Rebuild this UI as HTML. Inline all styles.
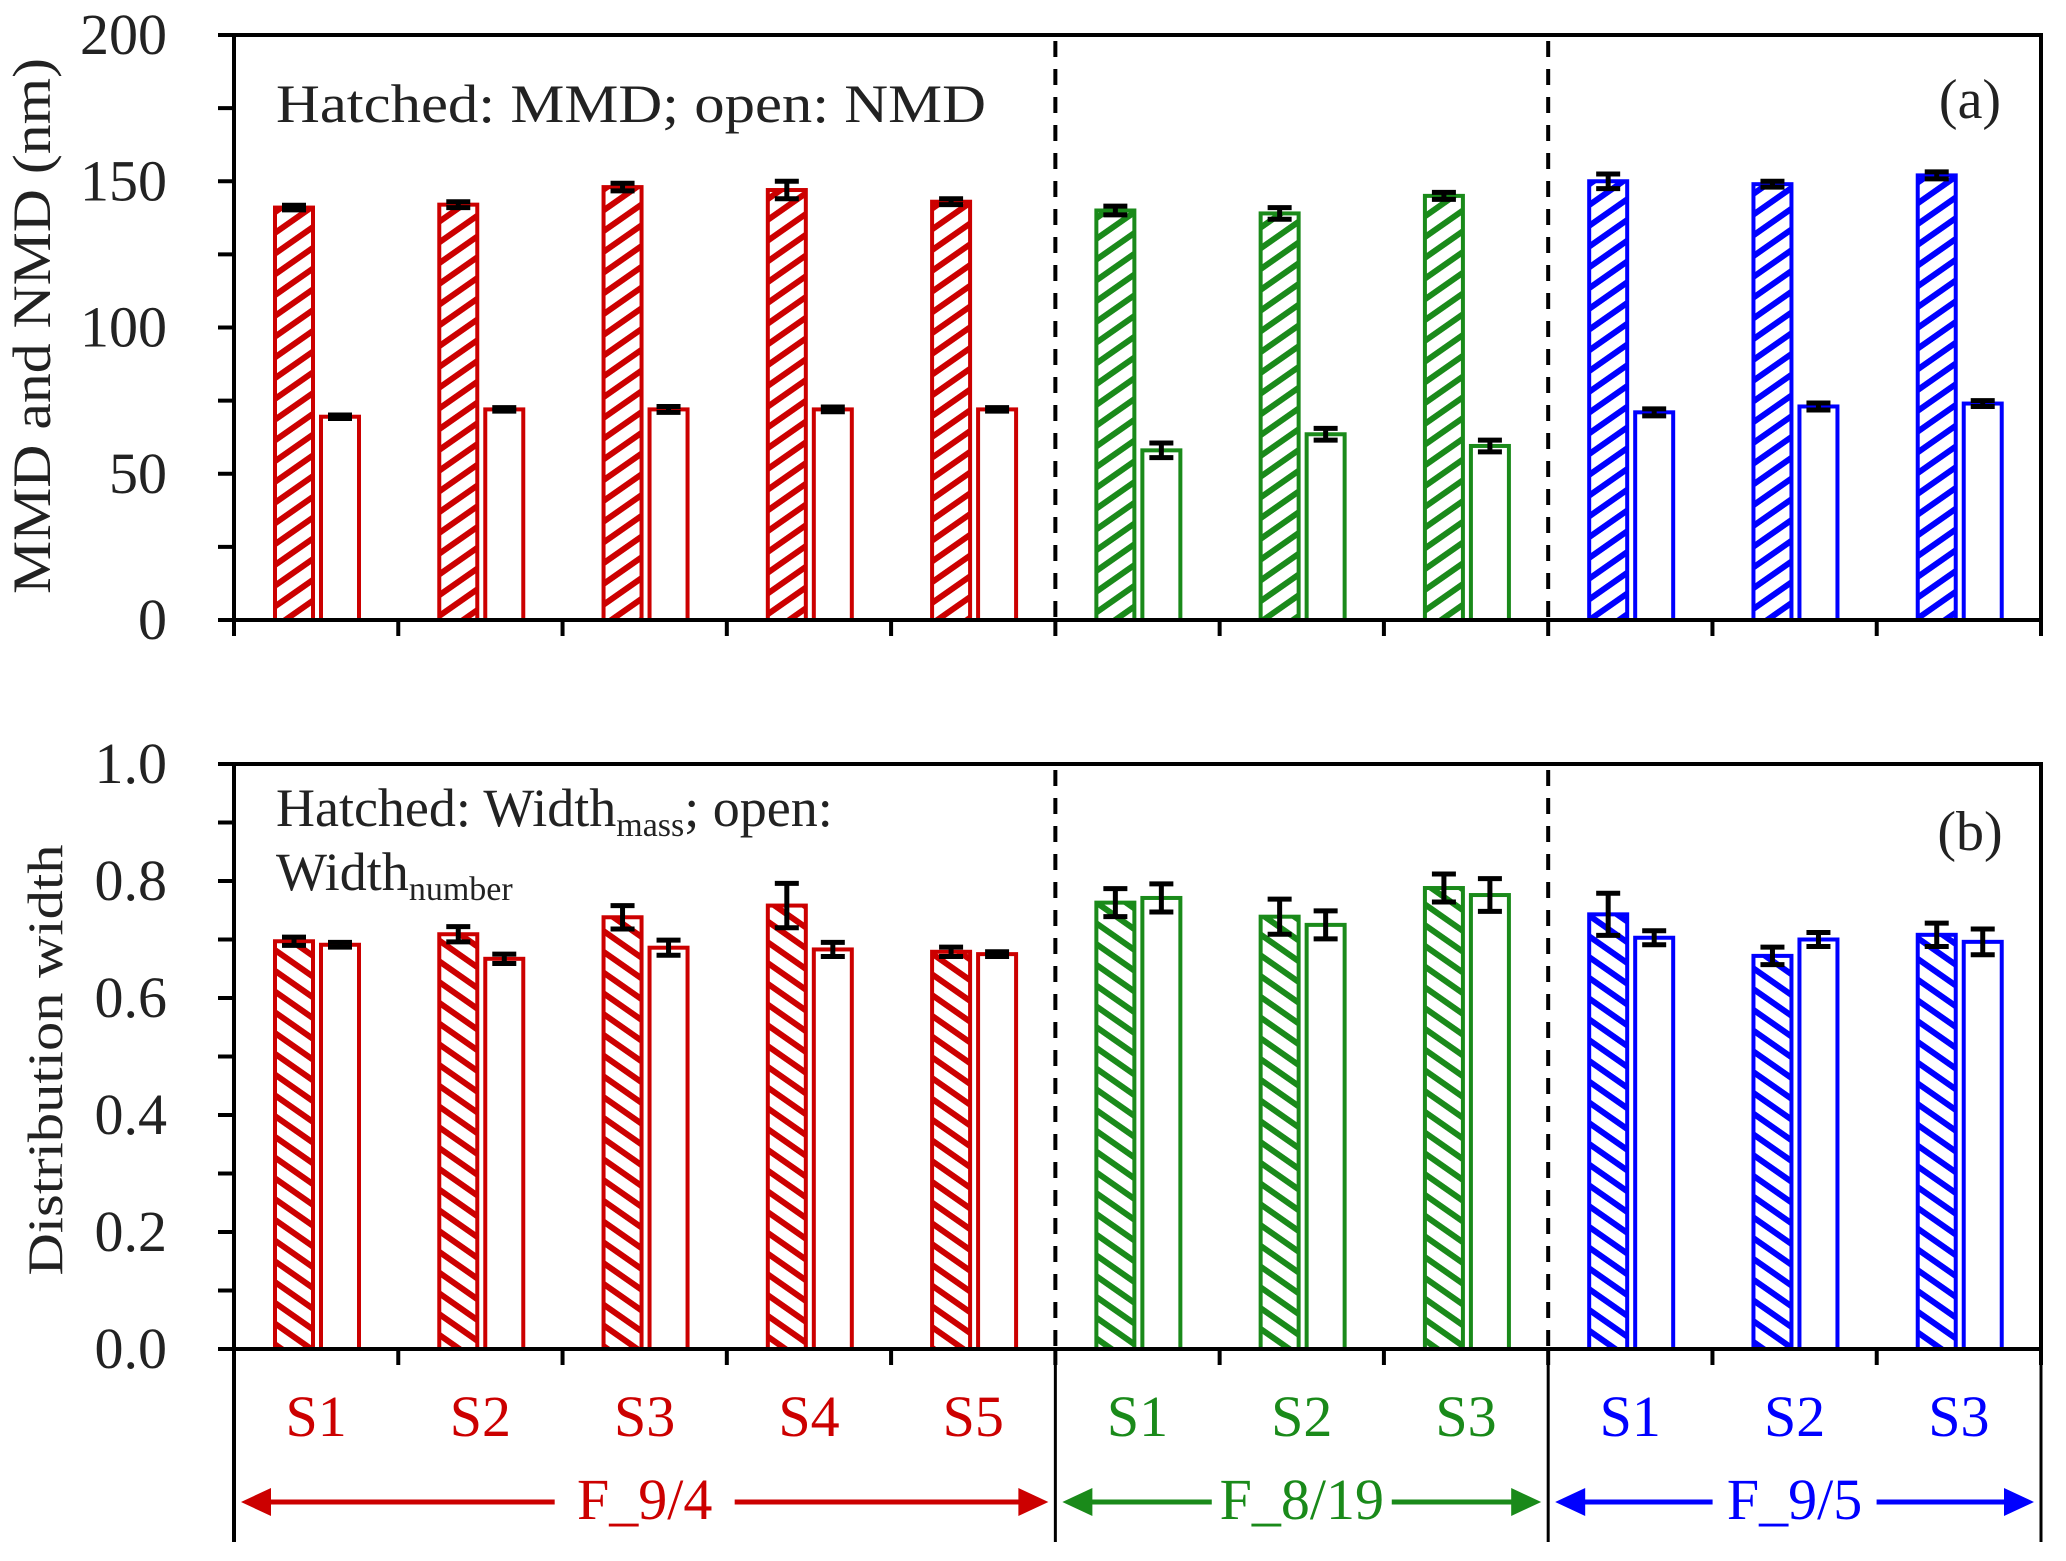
<!DOCTYPE html>
<html><head><meta charset="utf-8"><style>
html,body{margin:0;padding:0;background:#fff;}
svg{display:block;font-family:"Liberation Serif","Times New Roman",Times,serif;}
</style></head><body>
<svg id="chart" width="2066" height="1561" viewBox="0 0 2066 1561" xmlns="http://www.w3.org/2000/svg">
<defs>
<pattern id="hr1" patternUnits="userSpaceOnUse" width="40" height="17" patternTransform="rotate(-35)"><rect width="40" height="17" fill="#fff"/><line x1="0" y1="8.5" x2="40" y2="8.5" stroke="#cc0000" stroke-width="6"/></pattern>
<pattern id="hg1" patternUnits="userSpaceOnUse" width="40" height="17" patternTransform="rotate(-35)"><rect width="40" height="17" fill="#fff"/><line x1="0" y1="8.5" x2="40" y2="8.5" stroke="#1a8a1a" stroke-width="6"/></pattern>
<pattern id="hb1" patternUnits="userSpaceOnUse" width="40" height="17" patternTransform="rotate(-35)"><rect width="40" height="17" fill="#fff"/><line x1="0" y1="8.5" x2="40" y2="8.5" stroke="#0000ff" stroke-width="6"/></pattern>
<pattern id="hr2" patternUnits="userSpaceOnUse" width="40" height="17" patternTransform="rotate(35)"><rect width="40" height="17" fill="#fff"/><line x1="0" y1="8.5" x2="40" y2="8.5" stroke="#cc0000" stroke-width="6"/></pattern>
<pattern id="hg2" patternUnits="userSpaceOnUse" width="40" height="17" patternTransform="rotate(35)"><rect width="40" height="17" fill="#fff"/><line x1="0" y1="8.5" x2="40" y2="8.5" stroke="#1a8a1a" stroke-width="6"/></pattern>
<pattern id="hb2" patternUnits="userSpaceOnUse" width="40" height="17" patternTransform="rotate(35)"><rect width="40" height="17" fill="#fff"/><line x1="0" y1="8.5" x2="40" y2="8.5" stroke="#0000ff" stroke-width="6"/></pattern>
</defs>
<g id="g"></g>
</svg>
<script>
const categories = ["S1","S2","S3","S4","S5","S1","S2","S3","S1","S2","S3"];
const groupOf = [0,0,0,0,0,1,1,1,2,2,2];
const groupNames = ["F_9/4","F_8/19","F_9/5"];
const mmd = [141,142,148,147,143,140,139,145,150,149,152];
const mmdErr = [0.8,1,1.3,3,1,1.5,2,1.2,2.5,1,1.2];
const nmd = [69.5,72,72,72,72,58,63.5,59.5,71,73,74];
const nmdErr = [0.6,0.6,1,0.8,0.6,2.5,2,2,1.2,1.2,1];
const wMass = [0.697,0.709,0.738,0.758,0.679,0.763,0.739,0.788,0.743,0.672,0.708];
const wMassErr = [0.007,0.013,0.02,0.038,0.008,0.024,0.03,0.024,0.036,0.015,0.02];
const wNum = [0.691,0.667,0.686,0.683,0.675,0.771,0.725,0.776,0.703,0.700,0.696];
const wNumErr = [0.004,0.008,0.013,0.012,0.004,0.024,0.024,0.028,0.012,0.012,0.022];
const topTicks = [0,50,100,150,200];
const botTicks = ["0.0","0.2","0.4","0.6","0.8","1.0"];

const colors=["#cc0000","#1a8a1a","#0000ff"];
const hatchA=["url(#hr1)","url(#hg1)","url(#hb1)"];
const hatchB=["url(#hr2)","url(#hg2)","url(#hb2)"];
const NS="http://www.w3.org/2000/svg";
const G=document.getElementById('g');
function el(tag,attrs,parent){const e=document.createElementNS(NS,tag);for(const k in attrs)e.setAttribute(k,attrs[k]);(parent||G).appendChild(e);return e;}
const X0=234,X1=2041,CW=(X1-X0)/11;
function catX(i){return X0+i*CW;}
const TOP={y0:620,y1:35,max:200};
const BOT={y0:1349,y1:764,max:1};
function yT(v){return TOP.y0-(v/TOP.max)*(TOP.y0-TOP.y1);}
function yB(v){return BOT.y0-(v/BOT.max)*(BOT.y0-BOT.y1);}

function panel(P,yf,vals1,err1,vals2,err2,fills,nameP){
  [5,8].forEach(k=>{const l=el('line',{x1:catX(k),x2:catX(k),y1:P.y1+6,y2:P.y0,stroke:'#000','stroke-width':4,'stroke-dasharray':'16,12'});
  
  });
  for(let i=0;i<11;i++){
    const c=colors[groupOf[i]];
    const bx=catX(i)+41;
    const y1=yf(vals1[i]);
    const r1=el('rect',{x:bx,y:y1,width:38,height:P.y0-y1,fill:fills[groupOf[i]],stroke:c,'stroke-width':4});
    
    
    const y2=yf(vals2[i]);
    const r2=el('rect',{x:bx+46,y:y2,width:38,height:P.y0-y2,fill:'#fff',stroke:c,'stroke-width':4});
    
    
    [[bx+19,vals1[i],err1[i]],[bx+65,vals2[i],err2[i]]].forEach(([cx,v,e])=>{
      const g=el('g',{stroke:'#000','stroke-width':5});
      
      
      const ya=yf(v+e),yb=yf(v-e);
      el('line',{x1:cx,x2:cx,y1:ya,y2:yb},g);
      el('line',{x1:cx-12,x2:cx+12,y1:ya,y2:ya},g);
      el('line',{x1:cx-12,x2:cx+12,y1:yb,y2:yb},g);
    });
  }
  const f=el('rect',{x:X0,y:P.y1,width:X1-X0,height:P.y0-P.y1,fill:'none',stroke:'#000','stroke-width':4});
  
  
  for(let i=0;i<=11;i++){el('line',{x1:catX(i),x2:catX(i),y1:P.y0,y2:P.y0+16,stroke:'#000','stroke-width':4});}
}
panel(TOP,yT,mmd,mmdErr,nmd,nmdErr,hatchA,'top');
panel(BOT,yB,wMass,wMassErr,wNum,wNumErr,hatchB,'bottom');

topTicks.forEach(t=>{
  el('line',{x1:X0-16,x2:X0,y1:yT(t),y2:yT(t),stroke:'#000','stroke-width':4});
  if(t<200){const m=t+25;el('line',{x1:X0-16,x2:X0,y1:yT(m),y2:yT(m),stroke:'#000','stroke-width':4});}
  const tx=el('text',{x:167,y:yT(t)+19,'text-anchor':'end','font-size':58,fill:'#222'});
  tx.textContent=t;
  
  
});
botTicks.forEach(t=>{
  const v=parseFloat(t);
  el('line',{x1:X0-16,x2:X0,y1:yB(v),y2:yB(v),stroke:'#000','stroke-width':4});
  if(v<1){el('line',{x1:X0-16,x2:X0,y1:yB(v+0.1),y2:yB(v+0.1),stroke:'#000','stroke-width':4});}
  const tx=el('text',{x:167,y:yB(v)+19,'text-anchor':'end','font-size':58,fill:'#222'});
  tx.textContent=t;
  
  
});

el('line',{x1:X0,x2:X0,y1:BOT.y0,y2:1542,stroke:'#000','stroke-width':4});
[5,8,11].forEach(k=>{el('line',{x1:catX(k),x2:catX(k),y1:BOT.y0,y2:1542,stroke:'#000','stroke-width':3});});
categories.forEach((c,i)=>{
  const tx=el('text',{x:catX(i)+CW/2,y:1436,'text-anchor':'middle','font-size':58,fill:colors[groupOf[i]]});
  tx.textContent=c;
  
  
});
const gr=[[0,5],[5,8],[8,11]];
gr.forEach(([a,b],k)=>{
  const xa=catX(a)+7,xb=catX(b)-7,cx=(catX(a)+catX(b))/2,c=colors[k],y=1502;
  const g=el('g',{});
  
  
  const half=k==0?80:(k==1?80:72);
  el('line',{x1:xa+20,x2:cx-half-10,y1:y,y2:y,stroke:c,'stroke-width':5},g);
  el('line',{x1:cx+half+10,x2:xb-20,y1:y,y2:y,stroke:c,'stroke-width':5},g);
  el('polygon',{points:`${xa},${y} ${xa+30},${y-14} ${xa+30},${y+14}`,fill:c},g);
  el('polygon',{points:`${xb},${y} ${xb-30},${y-14} ${xb-30},${y+14}`,fill:c},g);
  const t=el('text',{x:cx,y:1519,'text-anchor':'middle','font-size':58,fill:c},g);
  t.textContent=groupNames[k];
});
</script>
<svg style="position:absolute;left:0;top:0" width="2066" height="1561">
<text x="276" y="122" font-size="54" fill="#222" font-family="Liberation Serif, Times New Roman, serif" textLength="710" lengthAdjust="spacingAndGlyphs">Hatched: MMD; open: NMD</text>
<text x="1970" y="118" font-size="56" fill="#222" text-anchor="middle" font-family="Liberation Serif, Times New Roman, serif">(a)</text>
<text x="1970" y="850" font-size="56" fill="#222" text-anchor="middle" font-family="Liberation Serif, Times New Roman, serif">(b)</text>
<text x="276" y="826" font-size="54" fill="#222" font-family="Liberation Serif, Times New Roman, serif">Hatched: Width<tspan font-size="34" dy="10">mass</tspan><tspan dy="-10">; open:</tspan></text>
<text x="276" y="890" font-size="54" fill="#222" font-family="Liberation Serif, Times New Roman, serif">Width<tspan font-size="34" dy="10">number</tspan></text>
<text x="0" y="0" font-size="54" fill="#222" text-anchor="middle" font-family="Liberation Serif, Times New Roman, serif" transform="translate(50,326) rotate(-90)" textLength="536" lengthAdjust="spacingAndGlyphs">MMD and NMD (nm)</text>
<text x="0" y="0" font-size="50" fill="#222" text-anchor="middle" font-family="Liberation Serif, Times New Roman, serif" transform="translate(62,1060) rotate(-90)" textLength="431" lengthAdjust="spacingAndGlyphs">Distribution width</text>
</svg>
</body></html>
